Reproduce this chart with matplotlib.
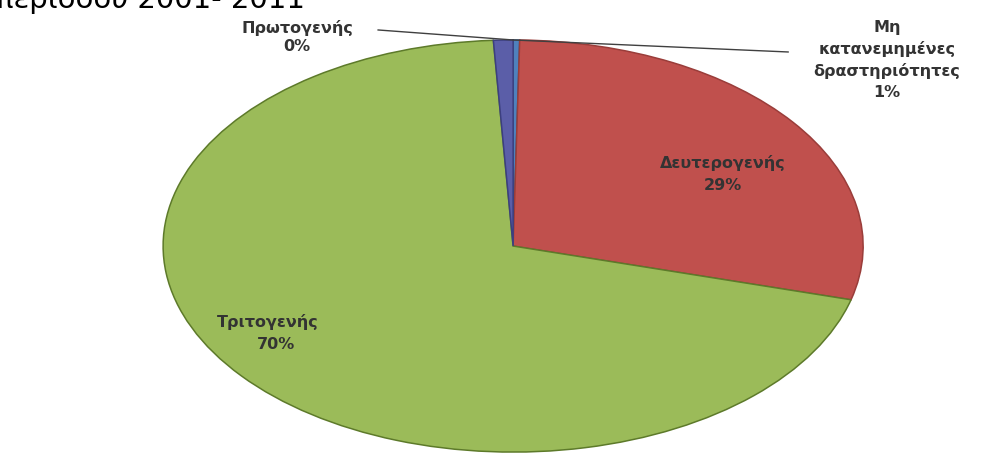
import matplotlib.pyplot as plt

# data (Excel order, clockwise from 12 o'clock)
sectors = ['Πρωτογενής', 'Δευτερογενής', 'Τριτογενής', 'Μη\nκατανεμημένες\nδραστηριότητες']
shares = [0.3, 28.9, 69.9, 0.9]
pct_labels = ['0%', '29%', '70%', '1%']
colors = ['#4F81BD', '#C0504D', '#9BBB59', '#5B5EA8']
edges = ['#2f5580', '#9a3d3a', '#5d7a2a', '#3c3f80']

fig = plt.figure(figsize=(10, 4.63), dpi=100)
ax = fig.add_axes([0, 0, 1, 1])

wedges, _ = ax.pie(shares, colors=colors, startangle=90, counterclock=False,
                   radius=1.0, wedgeprops=dict(linewidth=1.1))
for w, ec in zip(wedges, edges):
    w.set_edgecolor(ec)

# squash the pie into an ellipse like the original 3D-ish excel chart
ax.set_aspect('auto')
ax.set_xlim(-1.466, 1.391)
ax.set_ylim(-1.053, 1.194)
ax.axis('off')

# pixel (from top-left) -> data
def px(x):
    return (x - 513) / 350.0

def py(y):
    return ((463 - y) - 217) / 206.0

txt = dict(ha='center', va='center', fontsize=11.5, fontweight='bold', color='#333333')

# labels inside slices
ax.text(px(723), py(163), sectors[1], **txt)
ax.text(px(723), py(185), pct_labels[1], **txt)
ax.text(px(268), py(322), sectors[2], **txt)
ax.text(px(276), py(344), pct_labels[2], **txt)

# outside labels
ax.text(px(297), py(28), sectors[0], **txt)
ax.text(px(297), py(47), pct_labels[0], **txt)
ax.text(px(887), py(60), sectors[3] + '\n' + pct_labels[3], linespacing=1.45, **txt)

# leader lines to the top of the pie
ax.plot([px(378), 0], [py(30), 1.0], color='#404040', lw=1)
ax.plot([px(788), 0], [py(52), 1.0], color='#404040', lw=1)

# title, cut off at the top as in the source image
fig.text(-0.004, 1 - 8 / 463, 'περιόδου 2001- 2011', fontsize=21,
         ha='left', va='baseline', color='black')

fig.savefig('out.png', dpi=100, facecolor='white')
